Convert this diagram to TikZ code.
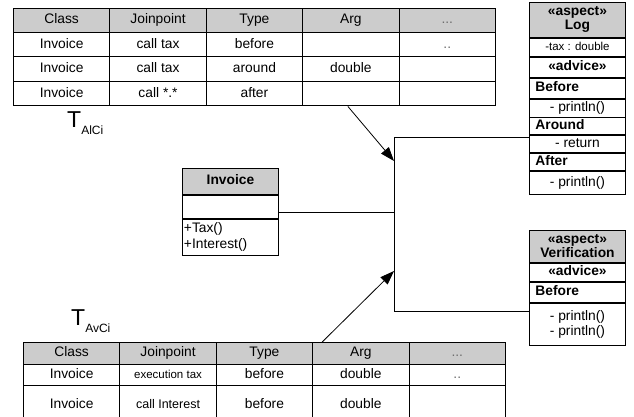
\documentclass[tikz,border=0pt]{standalone}
\usepackage{fontspec}
\setmainfont{Liberation Sans}
\usetikzlibrary{arrows.meta,positioning,calc}
\definecolor{hdr}{RGB}{204,204,204}
\definecolor{dotgray}{RGB}{110,110,110}
\newcommand{\moredots}{\textcolor{dotgray}{...}}
\newcommand{\lessdots}{\textcolor{dotgray}{..}}
\newcommand{\smalltxt}{\fontsize{11.5}{13}\selectfont}

\begin{document}
\begin{tikzpicture}[x=1pt, y=-1pt,
  cell/.style={draw, fill=white, line width=0.9pt, anchor=north west, minimum width=96.4pt, inner sep=0pt,
    text height=10pt, text depth=3pt, font=\fontsize{13.8}{15}\selectfont},
  hcell/.style={cell, fill=hdr},
  sect/.style={draw, fill=white, line width=0.9pt, minimum width=96pt, inner sep=0pt, align=center, font=\fontsize{13.8}{15}\selectfont},
  oneline/.style={text height=10pt, text depth=3pt},
  head/.style={sect, fill=hdr, font=\bfseries\fontsize{13.8}{14}\selectfont},
  bsect/.style={sect, oneline, align=left, text width=84pt, inner xsep=6pt, font=\bfseries\fontsize{13.8}{15}\selectfont},
  tlabel/.style={anchor=base west, inner sep=0pt, font=\fontsize{23}{23}\selectfont},
  wire/.style={line width=0.8pt},
  arr/.style={-{Triangle[length=14pt,width=10pt]}, line width=0.8pt},
  node distance=0pt
]
  \useasboundingbox (0,0) rectangle (634,417);

  % table for the Log aspect
  \foreach \c/\txt in {0/Class,1/Joinpoint,2/Type,3/Arg,4/\moredots}
    \node[hcell, minimum height=24pt] (al-0-\c) at ({13+96.4*\c},8) {\txt};
  \foreach \c/\txt in {0/Invoice,1/call tax,2/before,3/,4/\lessdots}
    \node[cell, minimum height=24.5pt] (al-1-\c) at ({13+96.4*\c},32) {\txt};
  \foreach \c/\txt in {0/Invoice,1/call tax,2/around,3/double,4/}
    \node[cell, minimum height=24.5pt] (al-2-\c) at ({13+96.4*\c},56.5) {\txt};
  \foreach \c/\txt in {0/Invoice,1/call *.*,2/after,3/,4/}
    \node[cell, minimum height=24.5pt] (al-3-\c) at ({13+96.4*\c},81) {\txt};
  \node[tlabel] (t-alci) at (67,128) {T\raisebox{-7pt}{\fontsize{12}{12}\selectfont AlCi}};

  % table for the Verification aspect
  \node[tlabel] (t-avci) at (71,325) {T\raisebox{-7pt}{\fontsize{12}{12}\selectfont AvCi}};
  \foreach \c/\txt in {0/Class,1/Joinpoint,2/Type,3/Arg,4/\moredots}
    \node[hcell, minimum height=22pt] (av-0-\c) at ({23+96.4*\c},342) {\txt};
  \foreach \c/\txt in {0/Invoice,1/{\smalltxt execution tax},2/before,3/double,4/\lessdots}
    \node[cell, minimum height=21pt] (av-1-\c) at ({23+96.4*\c},364) {\txt};
  \foreach \c/\txt in {0/Invoice,1/{\fontsize{12.5}{13}\selectfont call Interest},2/before,3/double,4/}
    \node[cell, minimum height=39pt] (av-2-\c) at ({23+96.4*\c},385) {\txt};

  % class Invoice
  \node[head, oneline, anchor=north west, minimum height=26pt] (inv-head) at (182,168) {Invoice};
  \node[sect, minimum height=23pt, below=of inv-head] (inv-attr) {};
  \node[sect, minimum height=36pt, align=left, text width=93pt, inner xsep=1.5pt,
    font=\fontsize{13.8}{16}\selectfont, below=of inv-attr] (inv-ops) {+Tax()\\+Interest()};

  % aspect Log
  \node[head, anchor=north west, minimum height=35pt] (log-head) at (529,2) {«aspect»\\Log};
  \node[sect, oneline, minimum height=18pt, font=\smalltxt, below=of log-head] (log-attr) {-tax : double};
  \node[sect, oneline, minimum height=20pt, font=\bfseries\fontsize{13.8}{15}\selectfont, below=of log-attr] (log-adv) {«advice»};
  \node[bsect, minimum height=20pt, below=of log-adv] (log-bef) {Before};
  \node[sect, oneline, minimum height=18pt, below=of log-bef] (log-bef-op) {- println()};
  \node[bsect, minimum height=17pt, below=of log-bef-op] (log-aro) {Around};
  \node[sect, oneline, minimum height=17pt, below=of log-aro] (log-ret) {- return};
  \node[bsect, minimum height=17pt, below=of log-ret] (log-aft) {After};
  \node[sect, oneline, minimum height=23pt, below=of log-aft] (log-aft-op) {- println()};

  % aspect Verification
  \node[head, anchor=north west, minimum height=32pt] (ver-head) at (529,230) {«aspect»\\Verification};
  \node[sect, oneline, minimum height=18pt, font=\bfseries\fontsize{13.8}{15}\selectfont, below=of ver-head] (ver-adv) {«advice»};
  \node[bsect, minimum height=20pt, below=of ver-adv] (ver-bef) {Before};
  \node[sect, minimum height=42pt, below=of ver-bef] (ver-ops) {- println()\\- println()};

  % weaving
  \coordinate (bus-top) at (394,137);
  \coordinate (bus-bot) at (394,311);
  \coordinate (in-log) at (394,161);
  \coordinate (in-ver) at (394,271);
  \coordinate (inv-out) at ([yshift=-5.5pt]inv-attr.east);
  \draw[wire] (bus-top -| log-ret.west) -- (bus-top) -- (bus-bot) -- (bus-bot -| ver-ops.west);
  \draw[wire] (inv-out) -- (inv-out -| bus-top);
  \draw[arr] ([xshift=-3pt]al-3-3.south) -- (in-log);
  \draw[arr] ([xshift=10pt]av-0-3.north west) -- (in-ver);
\end{tikzpicture}
\end{document}
